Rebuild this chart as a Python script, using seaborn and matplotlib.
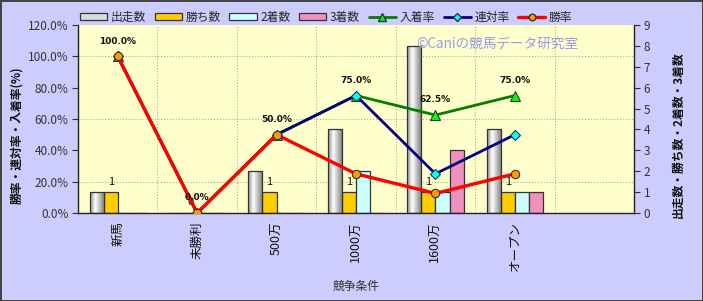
import numpy as np
import pandas as pd
import seaborn as sns
import matplotlib
matplotlib.use("Agg")
import matplotlib.pyplot as plt
from matplotlib.patches import Patch
from matplotlib.lines import Line2D
from matplotlib.ticker import PercentFormatter
from matplotlib.colors import LinearSegmentedColormap

# ---- data ----
categories = ['新馬', '未勝利', '500万', '1000万', '1600万', 'オープン']
count_names = ['出走数', '勝ち数', '2着数', '3着数']
starts = [1, 0, 2, 4, 8, 4]
wins = [1, 0, 1, 1, 1, 1]
seconds = [0, 0, 0, 2, 1, 1]
thirds = [0, 0, 0, 0, 3, 1]
rate_names = ['入着率', '連対率', '勝率']
place_rate = [1.0, 0.0, 0.5, 0.75, 0.625, 0.75]
quinella_rate = [1.0, 0.0, 0.5, 0.75, 0.25, 0.5]
win_rate = [1.0, 0.0, 0.5, 0.25, 0.125, 0.25]

sns.set_theme(style='white')
plt.rcParams['font.family'] = ['Noto Sans CJK JP', 'DejaVu Sans']

bar_colors = ['#F2F2F2', '#FFCC00', '#CCFFFF', '#F090C0']
line_colors = ['#008000', '#000080', '#FF0000']
line_markers = ['^', 'D', 'o']
marker_faces = ['#00FF00', '#00FFFF', '#FF9900']
marker_sizes = [7, 5, 6]
line_widths = [2.0, 2.0, 2.4]

fig = plt.figure(figsize=(7.03, 3.01), dpi=100, facecolor='#CCCCFF')
fig.patch.set_edgecolor('#444444')
fig.patch.set_linewidth(2)
ax = fig.add_axes([78 / 703, 88 / 301, 556 / 703, 188 / 301])
ax.set_facecolor('#FFFFCC')

df = pd.DataFrame({
    '条件': categories * 4,
    '種類': np.repeat(count_names, len(categories)),
    '数': starts + wins + seconds + thirds,
})
sns.barplot(data=df, x='条件', y='数', hue='種類', order=categories,
            hue_order=count_names, palette=bar_colors, width=0.71,
            edgecolor='#333333', linewidth=0.9, ax=ax, legend=False,
            zorder=2, saturation=1)

# gradient fill for 出走数 bars
grad_cmap = LinearSegmentedColormap.from_list(
    'g', [(0, '#8A8A8A'), (0.35, '#FFFFFF'), (1, '#7A7A7A')])
grad = np.linspace(0, 1, 64).reshape(1, -1)
for p in ax.containers[0]:
    x0, w, h = p.get_x(), p.get_width(), p.get_height()
    if h > 0:
        im = ax.imshow(grad, extent=[x0, x0 + w, 0, h], aspect='auto',
                       cmap=grad_cmap, zorder=2.05)
        im.set_clip_path(p)
        p.set_facecolor('none')
        p.set_zorder(2.1)

ax.bar_label(ax.containers[1], fmt='{:.0f}', padding=4, fontsize=8,
             color='#111111')

ax2 = ax.twinx()

ax.set_xlim(-0.5, 6.5)
ax.set_ylim(0, 9)
ax.yaxis.tick_right()
ax.yaxis.set_label_position('right')
ax.set_yticks(range(10))
ax.set_yticks(np.arange(0, 9.01, 1.5), minor=True)
ax.set_xticks(np.arange(-0.5, 7, 1), minor=True)
ax.grid(False)
ax.grid(which='minor', color='#AAAAAA', linestyle=':', linewidth=0.8)
ax.set_axisbelow(True)
ax.tick_params(which='minor', length=0)
ax.tick_params(axis='y', which='major', length=4, direction='out', width=0.8,
               labelsize=8.5, colors='#333333', pad=3, left=False,
               labelleft=False, right=True, labelright=True)
ax.tick_params(axis='x', which='major', length=0, labelsize=9,
               labelrotation=90, pad=6, labelcolor='#111111')
ax.set_ylabel('出走数・勝ち数・2着数・3着数', fontsize=8.5, rotation=90,
              color='#111111', fontweight='bold')
ax.yaxis.set_label_coords(1.068, 0.415)
ax.set_xlabel('競争条件', fontsize=8.5, labelpad=6, color='#333333')

rates = [place_rate, quinella_rate, win_rate]
for vals, c, m, mf, ms, lw in zip(rates, line_colors, line_markers,
                                  marker_faces, marker_sizes, line_widths):
    sns.pointplot(x=categories, y=vals, order=categories, color=c,
                  markers=m, errorbar=None, ax=ax2, linewidth=lw,
                  markersize=ms, markerfacecolor=mf,
                  markeredgecolor='#333333', markeredgewidth=0.8)
for i, v in enumerate(place_rate):
    ax2.annotate(f'{v * 100:.1f}%', (i, v), xytext=(0, 11),
                 textcoords='offset points', ha='center', va='center',
                 fontsize=6.5, fontweight='bold', color='#111111',
                 family='DejaVu Sans')

ax2.set_xlim(-0.5, 6.5)
ax2.set_ylim(0, 1.2)
ax2.set_yticks(np.arange(0, 1.21, 0.2))
ax2.yaxis.set_major_formatter(PercentFormatter(xmax=1, decimals=1))
ax2.yaxis.tick_left()
ax2.yaxis.set_label_position('left')
ax2.tick_params(axis='y', length=4, direction='out', width=0.8,
                labelsize=8.5, colors='#333333', pad=3)
ax2.set_ylabel('勝率・連対率・入着率(%)', fontsize=8.5, color='#111111',
               fontweight='bold')
ax2.yaxis.set_label_coords(-0.099, 0.415)
ax2.set_xlabel('')
for s in ax2.spines.values():
    s.set_visible(False)
ax.set_xticks(range(len(categories)))
ax.set_xticklabels(categories)

for name in ['left', 'right', 'bottom']:
    ax.spines[name].set_visible(True)
    ax.spines[name].set_color('#222222')
    ax.spines[name].set_linewidth(1)
ax.spines['top'].set_visible(False)

ax2.text(0.754, 0.9, '©Caniの競馬データ研究室', transform=ax2.transAxes,
         ha='center', va='center', fontsize=9.8, color='#9999EE')

handles = [Patch(facecolor=c, edgecolor='#333333', linewidth=0.9)
           for c in ['#DDDDDD'] + bar_colors[1:]]
handles += [Line2D([], [], color=c, marker=m, markerfacecolor=mf,
                   markeredgecolor='#333333', markersize=ms * 0.8,
                   linewidth=lw)
            for c, m, mf, ms, lw in zip(line_colors, line_markers,
                                        marker_faces, marker_sizes,
                                        line_widths)]
fig.legend(handles, count_names + rate_names, ncol=7, loc='center',
           bbox_to_anchor=(0.464, 0.942), frameon=False, fontsize=8.5,
           handlelength=2.3, handleheight=0.55, handletextpad=0.3,
           columnspacing=0.75)

fig.savefig('out.png', dpi=100, facecolor=fig.get_facecolor(),
            edgecolor=fig.get_edgecolor())
